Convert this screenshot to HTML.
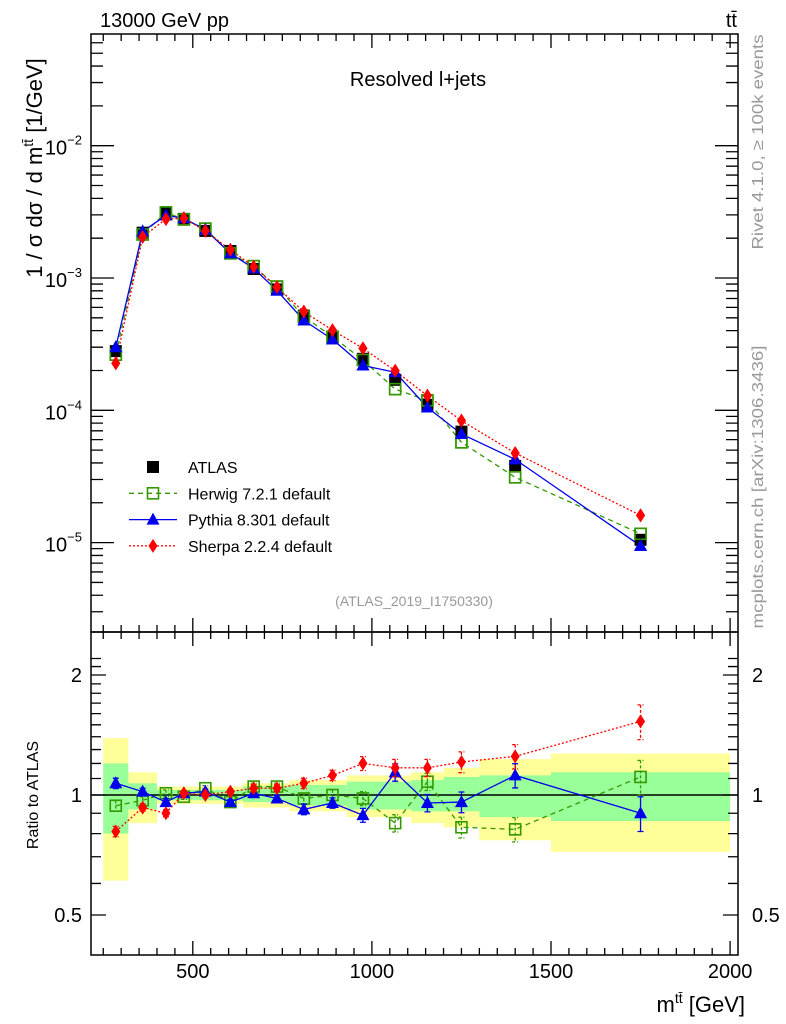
<!DOCTYPE html>
<html><head><meta charset="utf-8"><style>
body{margin:0;background:#fff;}
svg{display:block;font-family:"Liberation Sans",sans-serif;}
</style></head><body>
<svg id="c" width="786" height="1024" viewBox="0 0 786 1024" xmlns="http://www.w3.org/2000/svg">
<rect x="0" y="0" width="786" height="1024" fill="#fff"/>
<g id="bands"></g>
<g id="marks"></g>
<g id="axes"></g>
<text x="100" y="27" font-size="20">13000 GeV pp</text>
<text x="737" y="27" font-size="20" text-anchor="end">tt̄</text>
<text x="418" y="86" font-size="20" text-anchor="middle">Resolved l+jets</text>
<text x="414" y="606" font-size="14" fill="#999" text-anchor="middle">(ATLAS_2019_I1750330)</text>
<text transform="translate(42,168) rotate(-90)" font-size="22" text-anchor="middle">1 / σ dσ / d m<tspan font-size="14" dy="-9">tt̄</tspan><tspan dy="9"> [1/GeV]</tspan></text>
<text transform="translate(38,795) rotate(-90)" font-size="16" text-anchor="middle">Ratio to ATLAS</text>
<text x="745" y="1012" font-size="22" text-anchor="end">m<tspan font-size="14" dy="-9">tt̄</tspan><tspan dy="9"> [GeV]</tspan></text>
<text transform="translate(763,142) rotate(-90)" font-size="16" fill="#999" text-anchor="middle" textLength="215" lengthAdjust="spacingAndGlyphs">Rivet 4.1.0, ≥ 100k events</text>
<text transform="translate(763,487) rotate(-90)" font-size="16" fill="#999" text-anchor="middle" textLength="283" lengthAdjust="spacingAndGlyphs">mcplots.cern.ch [arXiv:1306.3436]</text>
<g id="legend"></g>
</svg>
<script>
const edges=[250,320,400,450,500,570,640,700,770,850,930,1020,1110,1200,1300,1500,2000];
const centers=[285,360,425,475,535,605,670,735,810,890,975,1065,1155,1250,1400,1750];
const atlas=[2.8e-4,2.2e-3,3.1e-3,2.8e-3,2.27e-3,1.6e-3,1.17e-3,8.2e-4,5.2e-4,3.6e-4,2.45e-4,1.7e-4,1.1e-4,6.9e-5,3.8e-5,1.05e-5];
const herwigR=[0.94,0.97,1.01,0.99,1.04,0.96,1.05,1.05,0.98,1.0,0.98,0.85,1.08,0.83,0.82,1.11];
const pythiaR=[1.07,1.02,0.96,1.01,1.02,0.96,1.01,0.98,0.92,0.955,0.89,1.14,0.955,0.96,1.12,0.90];
const sherpaR=[0.81,0.93,0.90,1.01,1.0,1.02,1.04,1.04,1.07,1.12,1.20,1.17,1.17,1.21,1.25,1.53];
const mcErr=[0.03,0.02,0.02,0.015,0.015,0.015,0.02,0.02,0.03,0.03,0.04,0.05,0.05,0.06,0.07,0.1];
const yUp=[1.39,1.14,1.05,1.05,1.05,1.05,1.07,1.07,1.09,1.09,1.12,1.12,1.14,1.17,1.23,1.27];
const yDn=[0.61,0.85,0.95,0.95,0.95,0.95,0.93,0.93,0.91,0.91,0.88,0.88,0.85,0.83,0.77,0.72];
const gUp=[1.20,1.07,1.03,1.03,1.03,1.03,1.05,1.05,1.06,1.06,1.08,1.08,1.09,1.11,1.12,1.14];
const gDn=[0.80,0.92,0.97,0.97,0.97,0.97,0.96,0.96,0.94,0.94,0.92,0.92,0.91,0.91,0.88,0.86];
const xTicks=[500,1000,1500,2000];
const yTicksMain=[-5,-4,-3,-2];
const rTicks=[0.5,1,2];

const NS="http://www.w3.org/2000/svg";
const L=91,R=738,T=34,MB=632,RB=955;
const X=m=>13.7+0.3582*m;
const Y=v=>278-132.3*(Math.log10(v)+3);
const RY=r=>795-120*Math.log2(r);
function mk(p,tag,a){const e=document.createElementNS(NS,tag);for(const k in a)e.setAttribute(k,a[k]);p.appendChild(e);return e;}
const bands=document.getElementById('bands'),marks=document.getElementById('marks'),axes=document.getElementById('axes'),leg=document.getElementById('legend');

for(let i=0;i<centers.length;i++){
  let e=mk(bands,'rect',{x:X(edges[i]),y:RY(yUp[i]),width:X(edges[i+1])-X(edges[i]),height:RY(yDn[i])-RY(yUp[i]),fill:'#ffff99'});
  
  
}
for(let i=0;i<centers.length;i++){
  let e=mk(bands,'rect',{x:X(edges[i]),y:RY(gUp[i]),width:X(edges[i+1])-X(edges[i]),height:RY(gDn[i])-RY(gUp[i]),fill:'#99ff99'});
  
  
}
let one=mk(marks,'line',{x1:L,x2:R,y1:RY(1),y2:RY(1),stroke:'#000','stroke-width':1.5});



function marker(g,type,x,y,col){
  let e;
  if(type==='sq') e=mk(g,'rect',{x:x-6,y:y-6,width:12,height:12,fill:'#000'});
  else if(type==='osq') e=mk(g,'rect',{x:x-5.5,y:y-5.5,width:11,height:11,fill:'none',stroke:col,'stroke-width':1.6});
  else if(type==='tri') e=mk(g,'polygon',{points:`${x},${y-7} ${x-6.5},${y+5} ${x+6.5},${y+5}`,fill:col});
  else e=mk(g,'polygon',{points:`${x},${y-7} ${x-4.5},${y} ${x},${y+7} ${x+4.5},${y}`,fill:col});
  return e;
}
const series=[
 {name:'herwig',r:herwigR,col:'#339900',dash:'5,4',type:'osq'},
 {name:'pythia',r:pythiaR,col:'#0000ee',dash:'',type:'tri'},
 {name:'sherpa',r:sherpaR,col:'#ff0000',dash:'2,2',type:'dia'}];
series.forEach(s=>{
  const g=mk(marks,'g',{});
  
  
  const pm=centers.map((c,i)=>X(c)+','+Y(atlas[i]*s.r[i])).join(' ');
  let l=mk(g,'polyline',{points:pm,fill:'none',stroke:s.col,'stroke-width':1.3,'stroke-dasharray':s.dash});
  
  
  const pr=centers.map((c,i)=>X(c)+','+RY(s.r[i])).join(' ');
  let l2=mk(g,'polyline',{points:pr,fill:'none',stroke:s.col,'stroke-width':1.3,'stroke-dasharray':s.dash});
  
  
  centers.forEach((c,i)=>{
    const x=X(c),ya=RY(s.r[i]*(1+mcErr[i])),yb=RY(s.r[i]*(1-mcErr[i]));
    let eb=mk(g,'path',{d:`M${x},${ya}V${yb}M${x-3},${ya}H${x+3}M${x-3},${yb}H${x+3}`,stroke:s.col,'stroke-width':1.3,'stroke-dasharray':s.dash?'3,2':'',fill:'none'});
    
    
    let m1=marker(g,s.type,x,Y(atlas[i]*s.r[i]),s.col);
    
    
    let m2=marker(g,s.type,x,RY(s.r[i]),s.col);
    
    
  });
});
centers.forEach((c,i)=>{
  let m=marker(marks,'sq',X(c),Y(atlas[i]),'#000');
  
  
});
series.forEach(s=>{centers.forEach((c,i)=>{
  let m=marker(marks,s.type,X(c),Y(atlas[i]*s.r[i]),s.col);
  
  
});});

let f1=mk(axes,'rect',{x:L,y:T,width:R-L,height:MB-T,fill:'none',stroke:'#000','stroke-width':1.5});


let f2=mk(axes,'rect',{x:L,y:MB,width:R-L,height:RB-MB,fill:'none',stroke:'#000','stroke-width':1.5});


let d='';
for(let m=250;m<=2000;m+=50){const x=X(m);if(x<=L+1)continue;const maj=m%500===0;const len=maj?14:7;
  d+=`M${x},${T}v${len}M${x},${MB}v${-len}M${x},${MB}v${len}M${x},${RB}v${-len}`;}
for(let e=-6;e<=-1;e++)for(let k=1;k<10;k++){const v=k*Math.pow(10,e);const y=Y(v);if(y<T||y>MB)continue;const len=k===1?23:12;
  d+=`M${L},${y}h${len}M${R},${y}h${-len}`;}
const rt=[0.5,0.6,0.7,0.8,0.9,1,1.1,1.2,1.3,1.4,1.5,1.6,1.7,1.8,1.9,2,2.1,2.2];
rt.forEach(r=>{const y=RY(r);if(y<MB||y>RB)return;const len=(r===0.5||r===1||r===2)?15:10;d+=`M${L},${y}h${len}M${R},${y}h${-len}`;});
let tk=mk(axes,'path',{d:d,stroke:'#000','stroke-width':1.3,fill:'none'});


xTicks.forEach(m=>{let t=mk(axes,'text',{x:X(m),y:978,'font-size':20,'text-anchor':'middle'});t.textContent=m;
  
  });
yTicksMain.forEach(e=>{let t=mk(axes,'text',{x:82,y:Y(Math.pow(10,e))+9,'font-size':20,'text-anchor':'end'});
  t.innerHTML='10<tspan font-size="13" dy="-10">−'+(-e)+'</tspan>';
  
  });
rTicks.forEach(r=>{[[82,'end'],[752,'start']].forEach(([x,a])=>{let t=mk(axes,'text',{x:x,y:RY(r)+7,'font-size':20,'text-anchor':a});t.textContent=r;
  
  });});

const legItems=[['ATLAS','sq','#000',''],['Herwig 7.2.1 default','osq','#339900','5,4'],['Pythia 8.301 default','tri','#0000ee',''],['Sherpa 2.2.4 default','dia','#ff0000','2,2']];
legItems.forEach((it,i)=>{const y=467+i*26.3;
  const g=mk(leg,'g',{});
  
  
  if(i>0)mk(g,'line',{x1:129,x2:177,y1:y,y2:y,stroke:it[2],'stroke-width':1.3,'stroke-dasharray':it[3]});
  marker(g,it[1],153,y,it[2]);
  const t=mk(g,'text',{x:188,y:y+6,'font-size':16});t.textContent=it[0];
});
</script>
</body></html>
